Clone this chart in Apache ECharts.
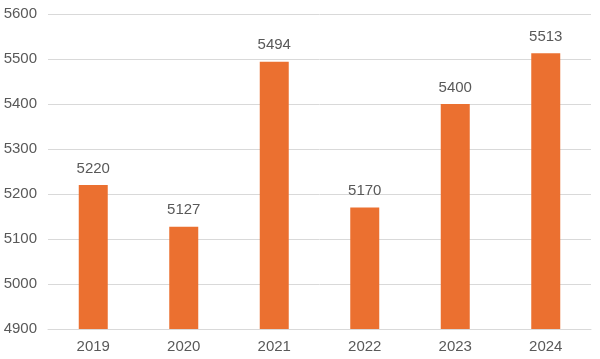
<!DOCTYPE html>
<html>
<head>
<meta charset="utf-8">
<script src="https://cdn.jsdelivr.net/npm/echarts@6/dist/echarts.min.js"></script>
<style>html,body{margin:0;padding:0;background:#fff;}#c{width:600px;height:359px;}</style>
</head>
<body>
<div id="c"></div>
<script>
const categories = ['2019', '2020', '2021', '2022', '2023', '2024'];
const values = [5220, 5127, 5494, 5170, 5400, 5513];
const chart = echarts.init(document.getElementById('c'), null, {renderer: 'canvas'});
const font = 'Liberation Sans, Arial, sans-serif';
chart.setOption({
  animation: false,
  grid: {left: 48, right: 9, top: 14, bottom: 30, containLabel: false},
  xAxis: {
    type: 'category',
    data: categories,
    axisLine: {show: true, lineStyle: {color: '#d9d9d9', width: 1}},
    axisTick: {show: false},
    axisLabel: {color: '#595959', fontSize: 15, fontFamily: font, margin: 10}
  },
  yAxis: {
    type: 'value',
    min: 4900,
    max: 5600,
    interval: 100,
    axisLine: {show: false},
    axisTick: {show: false},
    splitLine: {lineStyle: {color: '#d9d9d9', width: 1}},
    axisLabel: {color: '#595959', fontSize: 15, fontFamily: font, margin: 11, formatter: function (v) { return String(v); }}
  },
  series: [{
    type: 'bar',
    data: values,
    barWidth: 29,
    itemStyle: {color: '#EB7030'},
    label: {show: true, position: 'top', color: '#595959', fontSize: 15, fontFamily: font, distance: 9}
  }]
});
</script>
</body>
</html>
